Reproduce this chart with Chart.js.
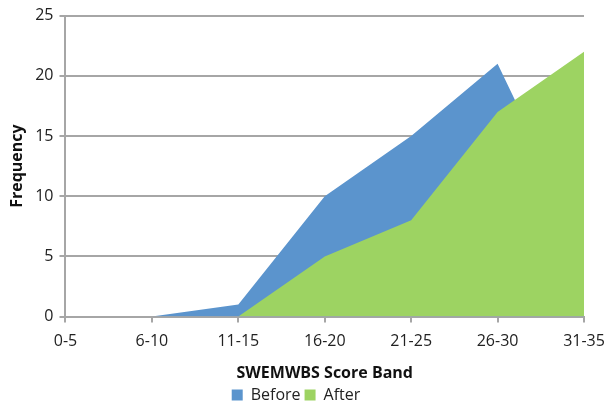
<!DOCTYPE html>
<html>
<head>
<meta charset="utf-8">
<script src="https://cdn.jsdelivr.net/npm/chart.js@4"></script>
<style>
    html, body { margin: 0; padding: 0; background: #fff; }
    #wrap { width: 616px; height: 407px; }
</style>
</head>
<body>
<div id="wrap"><canvas id="bandChart"></canvas></div>
<script>
// 점수 구간 (x축)
const scoreBands = ['0-5', '6-10', '11-15', '16-20', '21-25', '26-30', '31-35'];
// 사전 / 사후 빈도
const beforeCounts = [0, 0, 1, 10, 15, 21, 6];
const afterCounts = [0, 0, 0, 5, 8, 17, 22];
const yTicks = [0, 5, 10, 15, 20, 25];

const axisFont = { family: 'Open Sans', size: 16 };
const gridGray = '#a6a6a6';

const ctx = document.getElementById('bandChart').getContext('2d');

new Chart(ctx, {
    type: 'line',
    data: {
        labels: scoreBands,
        datasets: [{
            label: 'Before',
            data: beforeCounts,
            backgroundColor: '#5b94cd',
            borderColor: '#5b94cd',
            borderWidth: 0,
            pointRadius: 0,
            fill: 'origin',
            tension: 0,
            order: 1  // 뒤에 그리기
        }, {
            label: 'After',
            data: afterCounts,
            backgroundColor: '#9dd362',
            borderColor: '#9dd362',
            borderWidth: 0,
            pointRadius: 0,
            fill: 'origin',
            tension: 0,
            order: 0  // 위에 그리기
        }]
    },
    options: {
        responsive: true,
        maintainAspectRatio: false,
        animation: false,
        layout: { padding: { top: 14, right: 32, left: 8, bottom: -6 } },
        plugins: {
            legend: {
                position: 'bottom',
                labels: {
                    color: '#222',
                    font: { family: 'Open Sans', size: 16 },
                    boxWidth: 11,
                    boxHeight: 11,
                    padding: 4,
                    sort: (a, b) => a.datasetIndex - b.datasetIndex  // Before 먼저
                }
            },
            tooltip: { enabled: false }
        },
        scales: {
            x: {
                offset: false,
                grid: {
                    display: true,
                    drawOnChartArea: false,
                    drawTicks: true,
                    tickLength: 6,
                    color: gridGray,
                    lineWidth: 2
                },
                border: { color: gridGray, width: 2 },
                ticks: { color: '#222', font: axisFont, padding: 9, maxRotation: 0 },
                title: {
                    display: true,
                    text: 'SWEMWBS Score Band',
                    color: '#111',
                    font: { family: 'Open Sans', size: 16, weight: 'bold' },
                    padding: { top: 4, bottom: 0 }
                }
            },
            y: {
                min: 0,
                max: 25,
                afterBuildTicks: function (axis) {
                    axis.ticks = yTicks.map(v => ({ value: v }));
                },
                grid: {
                    color: gridGray,
                    lineWidth: 2,
                    tickLength: 6
                },
                border: { color: gridGray, width: 2 },
                ticks: { color: '#222', font: axisFont, padding: 6 },
                title: {
                    display: true,
                    text: 'Frequency',
                    color: '#111',
                    font: { family: 'Open Sans', size: 16, weight: 'bold' },
                    padding: { top: 0, bottom: 2 }
                }
            }
        }
    }
});
</script>
</body>
</html>
